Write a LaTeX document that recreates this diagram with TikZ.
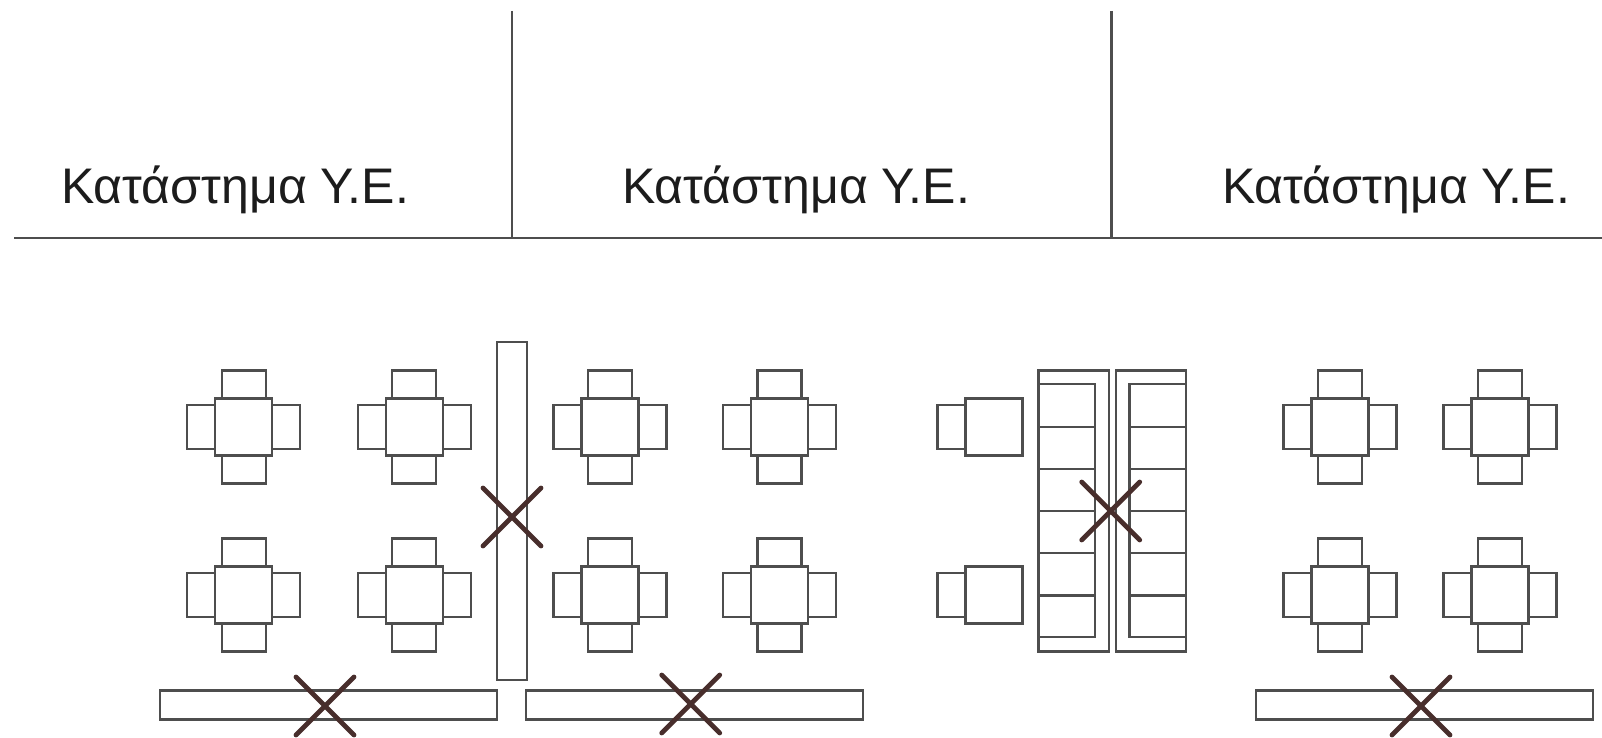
\documentclass[tikz,border=0pt]{standalone}
\usepackage{fontspec}
\setmainfont{Liberation Sans}
\usepackage{xcolor}
\usetikzlibrary{positioning,shapes.misc}
\definecolor{line_grey}{RGB}{78,78,78}
\definecolor{cross_brown}{RGB}{72,46,44}
\definecolor{text_dark}{RGB}{28,28,28}
\begin{document}
\begin{tikzpicture}[
      x=1pt,y=-1pt,
      wall/.style={
         draw=line_grey,
         line width=2.4pt},
      table_top/.style={
         rectangle,
         draw=line_grey,
         line width=2.4pt,
         inner sep=0pt,
         outer sep=0pt,
         minimum size=57pt},
      chair_h/.style={
         table_top,
         minimum width=44pt,
         minimum height=28pt},
      chair_v/.style={
         table_top,
         minimum width=28pt,
         minimum height=44pt},
      bench/.style={
         table_top,
         minimum width=337pt,
         minimum height=29pt},
      pew/.style={
         table_top,
         minimum width=70.5pt,
         minimum height=281pt},
      strike/.style={
         cross out,
         draw=cross_brown,
         line width=4.8pt,
         line cap=round,
         inner sep=0pt,
         outer sep=0pt,
         minimum width=#1pt,
         minimum height=58pt},
      shop/.style={
         anchor=base west,
         inner sep=0pt,
         text=text_dark,
         font=\fontsize{50}{60}\selectfont},
      ]
      \useasboundingbox (0,0) rectangle (1602,738);

      % shop front
      \coordinate (front_l) at (14,238);
      \coordinate (front_r) at (1602,238);
      \coordinate (wall1_top) at (512,11);
      \coordinate (wall2_top) at (1111.5,11);
      \draw[wall] (front_l) -- (front_r);
      \draw[wall] (wall1_top) -- (wall1_top |- front_l);
      \draw[wall] (wall2_top) -- (wall2_top |- front_l);

      \node[shop] (shop1) at (61,204) {Κατάστημα Υ.Ε.};
      \node[shop] (shop2) at (622,204) {Κατάστημα Υ.Ε.};
      \node[shop] (shop3) at (1222,204) {Κατάστημα Υ.Ε.};

      % tables with four chairs
      \foreach \n/\cx/\cy in {
        a/243.7/427, b/414.2/427, c/610/427, d/779.6/427, e/1340/427, f/1500/427,
        g/243.7/595, h/414.2/595, i/610/595, j/779.6/595, k/1340/595, l/1500/595}
      {
        \node[table_top] (t\n) at (\cx,\cy) {};
        \node[chair_h,above=0pt of t\n] (t\n n) {};
        \node[chair_h,below=0pt of t\n] (t\n s) {};
        \node[chair_v,left=0pt of t\n] (t\n w) {};
        \node[chair_v,right=0pt of t\n] (t\n e) {};
      }

      % tables with one chair
      \foreach \n/\cy in {p/427, q/595}
      {
        \node[table_top] (t\n) at (994,\cy) {};
        \node[chair_v,left=0pt of t\n] (t\n w) {};
      }

      % benches
      \node[table_top,minimum width=30pt,minimum height=338pt] (pillar) at (512,511) {};
      \node[bench] (bench1) at (328.5,705) {};
      \node[bench] (bench2) at (694.5,705) {};
      \node[bench] (bench3) at (1424.5,705) {};

      % pews
      \node[pew] (pew_l) at (1073.7,511) {};
      \node[pew] (pew_r) at (1151,511) {};
      \draw[wall] (pew_l.west |- 0,384) -- (1095,384) -- (1095,637) -- (pew_l.west |- 0,637);
      \draw[wall] (pew_r.east |- 0,384) -- (1129.3,384) -- (1129.3,637) -- (pew_r.east |- 0,637);
      \foreach \y in {426.7,469,511,552.7,595.3}
      {
        \draw[wall] (pew_l.west |- 0,\y) -- (1095,\y);
        \draw[wall] (pew_r.east |- 0,\y) -- (1129.3,\y);
      }

      % crossed out
      \node[strike=58] (x_pillar) at (512,517) {};
      \node[strike=58] (x_pew) at (1110.7,511) {};
      \node[strike=58] (x_bench1) at (325,706) {};
      \node[strike=58] (x_bench2) at (690.7,704) {};
      \node[strike=58] (x_bench3) at (1421,706) {};
    \end{tikzpicture}
\end{document}
